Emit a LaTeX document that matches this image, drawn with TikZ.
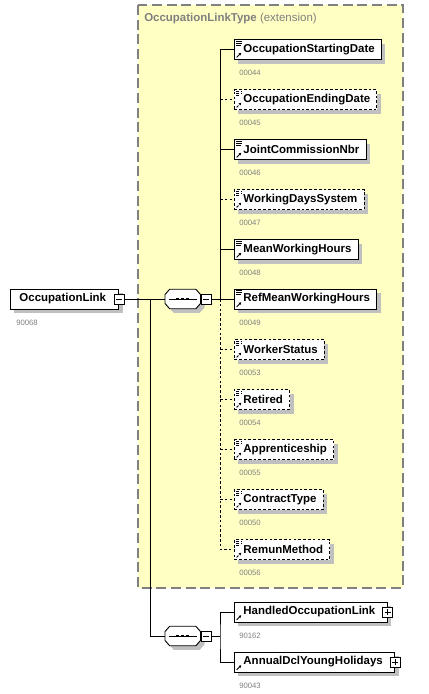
\documentclass[tikz,border=0pt]{standalone}
\usepackage{fontspec}
\setmainfont{Liberation Sans}
\usetikzlibrary{positioning,shadows,arrows.meta}
\definecolor{typefill}{RGB}{255,255,196}
\definecolor{typeline}{RGB}{128,128,128}
\definecolor{idgray}{RGB}{128,128,128}
\definecolor{shadowgray}{RGB}{192,192,192}
\newcommand{\docmark}{%
  \draw[line width=0.5pt] ([shift={(1.5pt,-1.2pt)}]path picture bounding box.north west) -- ++(4.5pt,0);
  \draw[line width=0.5pt] ([shift={(1.5pt,-2.6pt)}]path picture bounding box.north west) -- ++(4.5pt,0);
  \draw[line width=0.5pt] ([shift={(1.5pt,-4pt)}]path picture bounding box.north west) -- ++(3.5pt,0);}
\newcommand{\refmark}{%
  \draw[line width=0.6pt,-{Latex[length=2pt,width=2.2pt]}] ([shift={(1.6pt,1.6pt)}]path picture bounding box.south west) -- ++(3.6pt,3.6pt);}
% octagon of a sequence compositor, drawn round a named node
\newcommand{\octpath}[1]{([xshift=3.5pt]#1.north west) -- ([xshift=-3.5pt]#1.north east)
  -- ([yshift=-4pt]#1.north east) -- ([yshift=4pt]#1.south east)
  -- ([xshift=-3.5pt]#1.south east) -- ([xshift=3.5pt]#1.south west)
  -- ([yshift=4pt]#1.south west) -- ([yshift=-4pt]#1.north west) -- cycle}
\newcommand{\seqshape}[1]{%
  \fill[shadowgray, transform canvas={shift={(3pt,-3pt)}}] \octpath{#1};
  \filldraw[fill=white, line width=0.7pt] \octpath{#1};
  \draw[line width=0.7pt] ([xshift=3pt]#1.west) -- ([xshift=-3pt]#1.east);
  \foreach \dx in {-3.8pt,0pt,3.8pt}
    \fill ([xshift=\dx]#1.center) +(-1.1pt,-1.1pt) rectangle +(1.1pt,1.1pt);}
\tikzset{
  boxbase/.style={draw, fill=white, anchor=west, line width=0.7pt,
    general shadow={fill=shadowgray, shadow xshift=3pt, shadow yshift=-3pt},
    minimum height=15pt, inner xsep=0pt, inner ysep=0pt,
    font=\bfseries\fontsize{8.6}{10}\selectfont,
    execute at begin node=\hspace*{6.75pt}},
  leafel/.style={boxbase, execute at end node=\hspace*{5pt},
    path picture={\docmark\refmark}},
  refel/.style={boxbase, execute at end node=\hspace*{9pt},
    path picture={\refmark}},
  rootel/.style={boxbase, execute at end node=\hspace*{9.5pt}},
  opt/.style={dash pattern=on 2pt off 1.6pt},
  idtag/.style={inner sep=0pt, text=idgray, font=\fontsize{5.8}{6}\selectfont},
  seqsym/.style={anchor=west, minimum width=26.25pt, minimum height=14.25pt, inner sep=0pt},
  minusbox/.style={draw, fill=white, line width=0.6pt, minimum size=7.5pt, inner sep=0pt,
    path picture={\draw[line width=0.6pt] ([xshift=1.4pt]path picture bounding box.west) -- ([xshift=-1.4pt]path picture bounding box.east);}},
  plusbox/.style={minusbox,
    path picture={\draw[line width=0.6pt] ([xshift=1.4pt]path picture bounding box.west) -- ([xshift=-1.4pt]path picture bounding box.east);
      \draw[line width=0.6pt] ([yshift=1.4pt]path picture bounding box.south) -- ([yshift=-1.4pt]path picture bounding box.north);}},
  conn/.style={line width=0.7pt}
}
\begin{document}
\begin{tikzpicture}[x=0.75pt,y=-0.75pt]
\useasboundingbox (0,0) rectangle (429,694);
% extension frame
\draw[fill=typefill, draw=typeline, line width=0.8pt, dash pattern=on 7.5pt off 3.5pt]
  (138,5) rectangle (403,588);
\node[anchor=west, inner sep=0pt, text=typeline, font=\fontsize{8.6}{10}\selectfont]
  (typeName) at (144,19) {\textbf{OccupationLinkType} (extension)};

% root element
\node[rootel] (occLink) at (10,299) {OccupationLink};
\node[minusbox] (occLinkMinus) at (occLink.east) {};
\node[idtag, below right=7.5pt and 4.5pt of occLink.south west] {90068};

% sequences
\node[seqsym] (seqTop) at (165,299) {};
\seqshape{seqTop}
\node[minusbox, anchor=west] (seqTopMinus) at (seqTop.east) {};
\node[seqsym] (seqBot) at (165,636) {};
\seqshape{seqBot}
\node[minusbox, anchor=west] (seqBotMinus) at (seqBot.east) {};
\coordinate (rootTrunk) at (150,299);
\coordinate (topTrunk) at (220,299);
\coordinate (botTrunk) at (220,636);

% children of the extension
\node[leafel] (startDate) at (234,49.5) {OccupationStartingDate};
\node[leafel, opt] (endDate) at (234,99.5) {OccupationEndingDate};
\node[leafel] (jointComm) at (234,149.5) {JointCommissionNbr};
\node[leafel, opt] (workDays) at (234,199.5) {WorkingDaysSystem};
\node[leafel] (meanHours) at (234,249.5) {MeanWorkingHours};
\node[leafel] (refHours) at (234,299) {RefMeanWorkingHours};
\node[leafel, opt] (workerStatus) at (234,349.5) {WorkerStatus};
\node[leafel, opt] (retired) at (234,399.5) {Retired};
\node[leafel, opt] (apprentice) at (234,449.5) {Apprenticeship};
\node[leafel, opt] (contract) at (234,499.5) {ContractType};
\node[leafel, opt] (remun) at (234,549.5) {RemunMethod};

\node[idtag, below right=7.5pt and 3.75pt of startDate.south west] {00044};
\node[idtag, below right=7.5pt and 3.75pt of endDate.south west] {00045};
\node[idtag, below right=7.5pt and 3.75pt of jointComm.south west] {00046};
\node[idtag, below right=7.5pt and 3.75pt of workDays.south west] {00047};
\node[idtag, below right=7.5pt and 3.75pt of meanHours.south west] {00048};
\node[idtag, below right=7.5pt and 3.75pt of refHours.south west] {00049};
\node[idtag, below right=7.5pt and 3.75pt of workerStatus.south west] {00053};
\node[idtag, below right=7.5pt and 3.75pt of retired.south west] {00054};
\node[idtag, below right=7.5pt and 3.75pt of apprentice.south west] {00055};
\node[idtag, below right=7.5pt and 3.75pt of contract.south west] {00050};
\node[idtag, below right=7.5pt and 3.75pt of remun.south west] {00056};

% second sequence children
\node[refel] (handled) at (234,612) {HandledOccupationLink};
\node[plusbox] (handledPlus) at (handled.east) {};
\node[refel] (annual) at (234,662) {AnnualDclYoungHolidays};
\node[plusbox] (annualPlus) at (annual.east) {};
\node[idtag, below right=7.5pt and 3.75pt of handled.south west] {90162};
\node[idtag, below right=7.5pt and 3.75pt of annual.south west] {90043};

% connectors
\draw[conn] (occLinkMinus.east) -- (seqTop.west);
\draw[conn] (rootTrunk) |- (seqBot.west);
\draw[conn] (seqTopMinus.east) -- (topTrunk);
\draw[conn] (startDate.west) -| (topTrunk) -- (refHours.west);
\draw[conn] (topTrunk |- jointComm.west) -- (jointComm.west);
\draw[conn] (topTrunk |- meanHours.west) -- (meanHours.west);
\draw[conn, opt] (topTrunk |- endDate.west) -- (endDate.west);
\draw[conn, opt] (topTrunk |- workDays.west) -- (workDays.west);
\draw[conn, opt] (topTrunk) |- (remun.west);
\draw[conn, opt] (topTrunk |- workerStatus.west) -- (workerStatus.west);
\draw[conn, opt] (topTrunk |- retired.west) -- (retired.west);
\draw[conn, opt] (topTrunk |- apprentice.west) -- (apprentice.west);
\draw[conn, opt] (topTrunk |- contract.west) -- (contract.west);
\draw[conn] (seqBotMinus.east) -- (botTrunk);
\draw[conn] (handled.west) -| (botTrunk) |- (annual.west);
\end{tikzpicture}
\end{document}
